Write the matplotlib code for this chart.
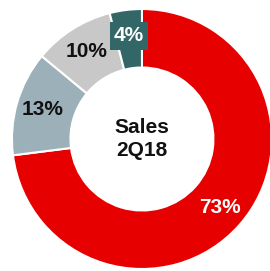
import matplotlib.pyplot as plt
import numpy as np

plt.rcParams['font.family'] = ['Liberation Sans', 'DejaVu Sans']

segments = ['A', 'B', 'C', 'D']
shares = [73, 13, 10, 4]
colors = ['#e60000', '#9bb0b8', '#c8c8c8', '#336666']
label_colors = ['white', '#111111', '#111111', 'white']
center_text = 'Sales\n2Q18'

fig = plt.figure(figsize=(2.70, 2.71), dpi=100)
ax = fig.add_axes([0, 0, 1, 1])

wedges, texts, autotexts = ax.pie(
    shares, colors=colors, startangle=90, counterclock=False,
    radius=1.0, wedgeprops=dict(width=0.45, edgecolor='white', linewidth=1.5),
    autopct='%d%%', pctdistance=0.8,
    textprops=dict(fontsize=15, fontweight='bold'))

for t, c in zip(autotexts, label_colors):
    t.set_color(c)
# small slice label gets a box in its own colour
autotexts[3].set_bbox(dict(facecolor=colors[3], edgecolor='none', pad=3))

ax.text(0, 0, center_text, ha='center', va='center', fontsize=15,
        fontweight='bold', color='#111111', linespacing=1.25)

ax.set_xlim(-1.092, 0.985)
ax.set_ylim(-1.015, 1.069)
ax.set_aspect('equal')
ax.axis('off')

fig.savefig('out.png', dpi=100)
